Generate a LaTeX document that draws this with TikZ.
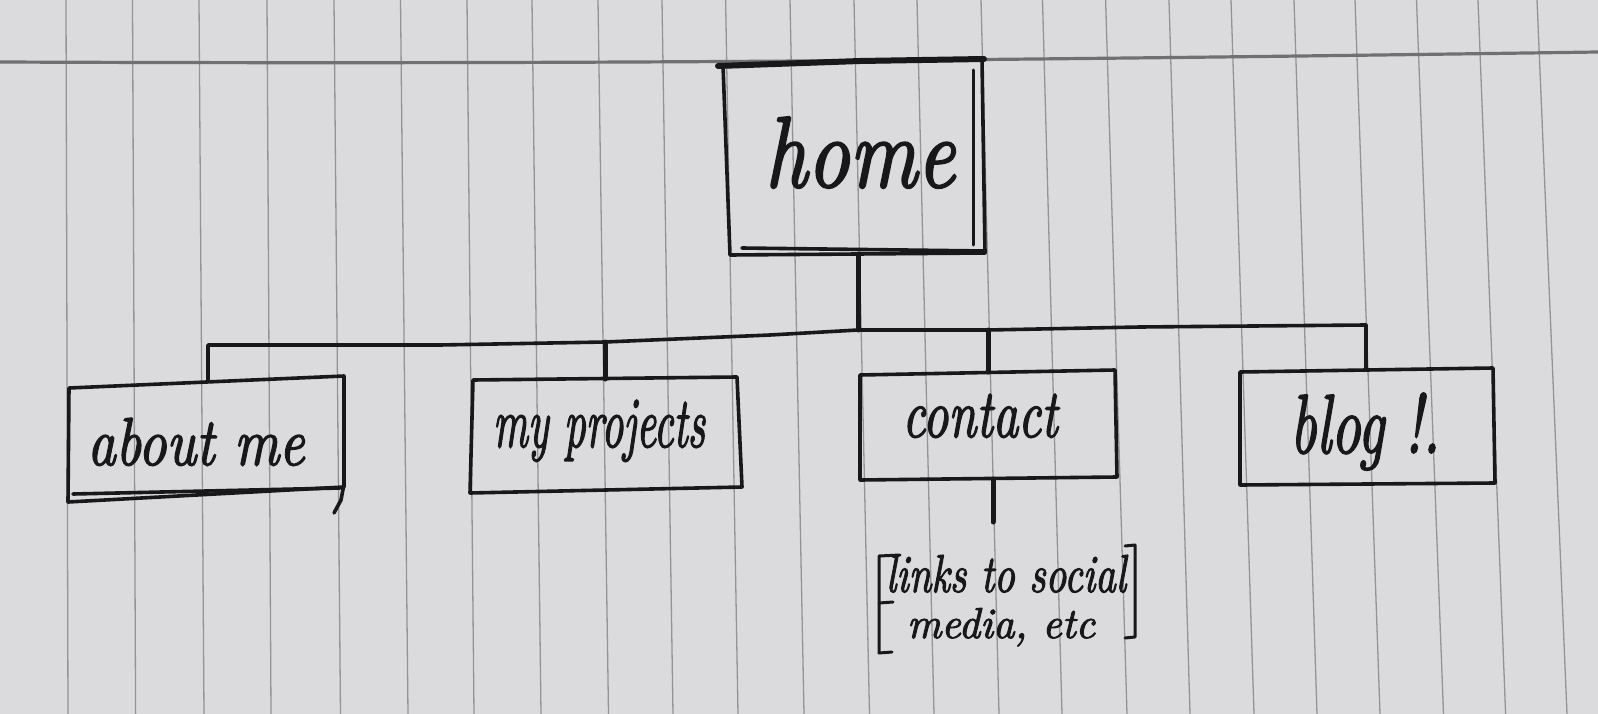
\documentclass[tikz,border=0pt]{standalone}
\usepackage{graphicx}
\usepackage{fontspec}
\newfontfamily\handfont{Latin Modern Roman}[FakeBold=2.2]
\definecolor{paper}{RGB}{219,219,222}
\definecolor{rulegray}{RGB}{148,148,151}
\definecolor{headrule}{RGB}{112,112,114}
\definecolor{ink}{RGB}{24,24,26}
% handwritten-style label scaled to a given width and height above the baseline (in pt)
\newcommand{\handtext}[3]{\resizebox{#1pt}{#2pt}{\handfont\itshape #3}}

\begin{document}
\begin{tikzpicture}[x=1pt,y=-1pt,
  pen/.style={draw=ink,line width=3.6pt,line cap=round,line join=round},
  stemline/.style={draw=ink,line width=5pt,line cap=round,line join=round},
  label/.style={inner sep=0pt,anchor=base,text=ink},
  ruling/.style={draw=rulegray,line width=1.3pt},
]
\useasboundingbox (0,0) rectangle (1598,714);
\fill[paper] (0,0) rectangle (1598,714);

% notebook paper: vertical rulings (top x / bottom x) and the head rule
\foreach \a/\b in {66/68,132.5/135.6,199/204,267/271,334/340.5,400.5/408,467/474,532/541,598/608.5,662/673,725.6/738,790/804,854/869.5,917/934,981/999,1042.5/1062,1105.6/1127,1169/1190,1231/1254,1294/1317,1355/1380,1416.5/1443.5,1478/1505.6,1537/1567}
  \draw[ruling] (\a,0) -- (\b,714);
\draw[headrule,line width=3.2pt] (0,62) .. controls (500,64) and (900,62) .. (1598,52);

% ---------- home ----------
\coordinate (hTL) at (723,65);
\coordinate (hTR) at (982,59);
\coordinate (hBR) at (985,253);
\coordinate (hBL) at (730,255);
\draw[pen] (hTL) -- (hTR) -- (hBR) -- (hBL) -- cycle;
\draw[pen,line width=6pt] (718,66) -- (860,61) -- (984,59);
\draw[pen,line width=3pt] (973,70) -- (973,245);
\draw[pen] (742,248) -- (985,251);
\node[label] (home) at (860,187) {\handtext{190}{70}{home}};
\coordinate (home-out) at (858,254);

% ---------- about me ----------
\coordinate (aTL) at (69,388);
\coordinate (aTR) at (344,376);
\coordinate (aBR) at (344,487);
\coordinate (aBL) at (68,502);
\draw[pen] (aTL) -- (aTR) -- (aBR) -- (aBL) -- cycle;
\draw[pen] (73,494) -- (340,488);
\draw[pen] (344,484) -- (341,500) -- (334,513);
\node[label] (about) at (196,465) {\handtext{217}{47}{about me}};
\coordinate (about-in) at (208,381);

% ---------- my projects ----------
\coordinate (pTL) at (473,380);
\coordinate (pTR) at (737,377);
\coordinate (pBR) at (742,487);
\coordinate (pBL) at (470,493);
\draw[pen] (pTL) -- (pTR) -- (pBR) -- (pBL) -- cycle;
\node[label] (projects) at (599,447) {\handtext{212}{47}{my projects}};
\coordinate (projects-in) at (605,379);

% ---------- contact ----------
\coordinate (cTL) at (860,375);
\coordinate (cTR) at (1115,370);
\coordinate (cBR) at (1117,477);
\coordinate (cBL) at (860,480);
\draw[pen] (cTL) -- (cTR) -- (cBR) -- (cBL) -- cycle;
\node[label] (contact) at (980,437) {\handtext{155}{43}{contact}};
\coordinate (contact-in) at (988,372);
\coordinate (contact-out) at (993,479);
\coordinate (links-in) at (993,522);

% ---------- blog ----------
\coordinate (bTL) at (1240,372);
\coordinate (bTR) at (1493,368);
\coordinate (bBR) at (1495,483);
\coordinate (bBL) at (1240,485);
\draw[pen] (bTL) -- (bTR) -- (bBR) -- (bBL) -- cycle;
\node[label] (blog) at (1365,453) {\handtext{150}{60}{blog !.}};
\coordinate (blog-in) at (1366,370);

% ---------- note under contact ----------
\node[label] (links1) at (1006,592) {\handtext{240}{37}{links to social}};
\node[label] (links2) at (1001,638) {\handtext{188}{30}{media, etc}};
\draw[pen,line width=3pt] (900,555) -- (879,556) -- (879,653) -- (892,652);
\draw[pen,line width=3pt] (879,603) -- (893,602);
\draw[pen,line width=3pt] (1125,546) -- (1135,545) -- (1135,637) -- (1125,638);

% ---------- connectors ----------
\coordinate (bus-about) at (208,345);
\coordinate (bus-projects) at (605,342);
\coordinate (bus-home) at (858,330);
\coordinate (bus-contact) at (988,330);
\coordinate (bus-blog) at (1366,325);
\draw[pen] (about-in) -- (bus-about) -- (440,345) -- (bus-projects) -- (770,335)
  -- (bus-home) -- (bus-contact) -- (1140,327) -- (bus-blog) -- (blog-in);
\draw[stemline] (home-out) -- (bus-home);
\draw[stemline] (bus-projects) -- (projects-in);
\draw[stemline] (bus-contact) -- (contact-in);
\draw[stemline] (contact-out) -- (links-in);
\end{tikzpicture}
\end{document}
